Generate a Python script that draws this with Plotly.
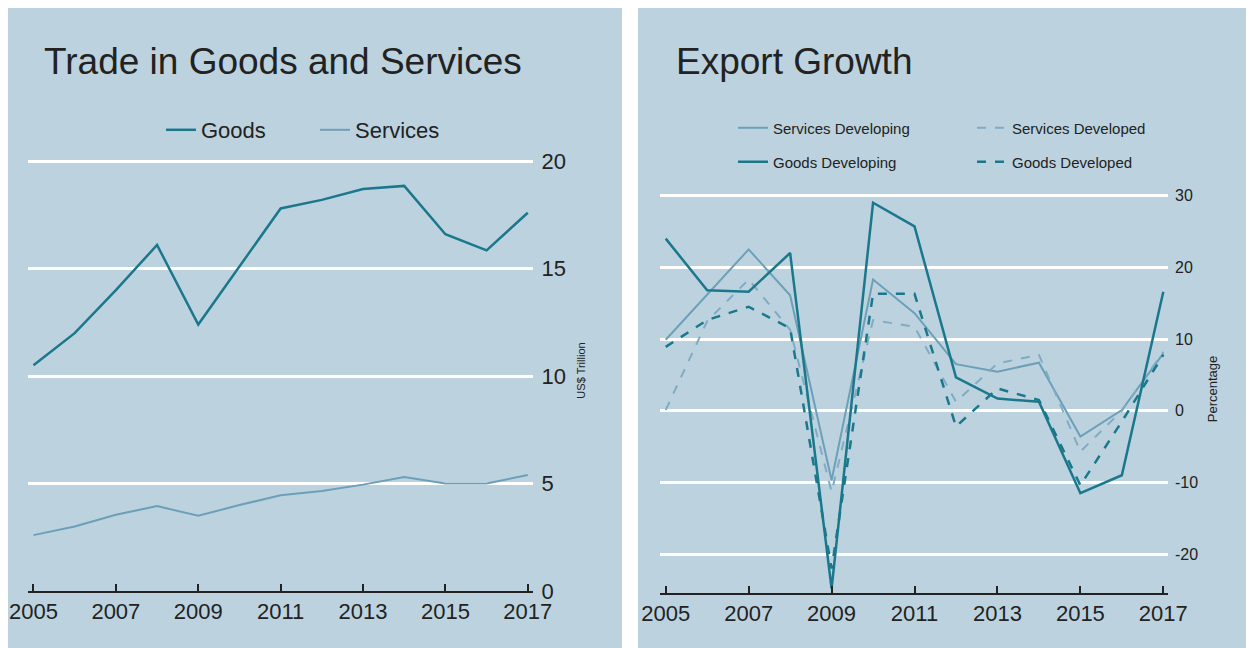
import plotly.graph_objects as go

# the page puts the plot 8px in from the top-left corner
OFF = 8
W, H = 1254 - OFF, 648 - OFF

years = list(range(2005, 2018))
tick_years = [2005, 2007, 2009, 2011, 2013, 2015, 2017]
left_ticks = [0, 5, 10, 15, 20]
right_ticks = [-20, -10, 0, 10, 20, 30]

# Trade in goods and services, US$ trillion
goods = [10.5, 12.0, 14.0, 16.1, 12.4, 15.1, 17.8, 18.2, 18.7, 18.85, 16.6, 15.85, 17.6]
services = [2.6, 3.0, 3.55, 3.95, 3.5, 4.0, 4.45, 4.65, 4.95, 5.3, 5.0, 5.0, 5.4]

# Export growth, percentage
services_developing = [9.9, 16.2, 22.5, 16.1, -9.7, 18.3, 13.6, 6.5, 5.45, 6.7, -3.6, 0.1, 8.0]
services_developed = [0.1, 12.5, 18.3, 11.3, -11.3, 12.65, 11.7, 1.25, 6.6, 7.8, -5.7, 0.0, 8.2]
goods_developing = [24.0, 16.8, 16.6, 22.0, -24.8, 29.0, 25.7, 4.65, 1.7, 1.25, -11.5, -9.0, 16.6]
goods_developed = [8.9, 12.65, 14.5, 11.5, -22.0, 16.3, 16.3, -2.2, 3.1, 1.5, -10.4, -1.5, 7.8]

BG = "#bcd3df"
DARK = "#1b788c"
LIGHT = "#6c9fb8"
LIGHT_DASH = "#80abc2"
TEXT = "#222222"
FONT = "Liberation Sans"


def px_x(p):
    # page pixel -> paper fraction
    return max(p - OFF, 0) / W


def px_y(p):
    return 1 - max(p - OFF, 0) / H


fig = go.Figure()

# left panel
fig.add_trace(go.Scatter(x=years, y=goods, mode="lines", name="Goods",
                         line=dict(color=DARK, width=2.5), xaxis="x", yaxis="y",
                         legend="legend"))
fig.add_trace(go.Scatter(x=years, y=services, mode="lines", name="Services",
                         line=dict(color=LIGHT, width=2), xaxis="x", yaxis="y",
                         legend="legend"))

# right panel
fig.add_trace(go.Scatter(x=years, y=services_developing, mode="lines",
                         name="Services Developing",
                         line=dict(color=LIGHT, width=2), xaxis="x2", yaxis="y2",
                         legend="legend2"))
fig.add_trace(go.Scatter(x=years, y=services_developed, mode="lines",
                         name="Services Developed",
                         line=dict(color=LIGHT_DASH, width=2, dash="dash"),
                         xaxis="x2", yaxis="y2", legend="legend2"))
fig.add_trace(go.Scatter(x=years, y=goods_developing, mode="lines",
                         name="Goods Developing",
                         line=dict(color=DARK, width=2.5), xaxis="x2", yaxis="y2",
                         legend="legend3"))
fig.add_trace(go.Scatter(x=years, y=goods_developed, mode="lines",
                         name="Goods Developed",
                         line=dict(color=DARK, width=2.5, dash="dash"),
                         xaxis="x2", yaxis="y2", legend="legend3"))

xcommon = dict(
    tickvals=tick_years, ticks="inside", ticklen=7, tickwidth=2, tickcolor="#222",
    showline=True, linecolor="#222", linewidth=2, showgrid=False, zeroline=False,
    automargin=False, tickfont=dict(family=FONT, size=22, color=TEXT),
)
ycommon = dict(
    side="right", showgrid=True, gridcolor="white", gridwidth=2.5,
    zeroline=False, showline=False, ticks="", automargin=False,
)

fig.update_layout(
    width=W, height=H,
    margin=dict(l=0, r=0, t=0, b=0),
    paper_bgcolor="white", plot_bgcolor="rgba(0,0,0,0)",
    font=dict(family=FONT, color=TEXT),
    xaxis=dict(domain=[px_x(27.8), px_x(532.6)], range=[2004.862, 2017.117],
               anchor="y", **xcommon),
    yaxis=dict(domain=[px_y(591), px_y(150)], range=[0, 20.52], anchor="x",
               tickvals=left_ticks, ticklabelstandoff=8,
               tickfont=dict(family=FONT, size=22, color=TEXT),
               title=dict(text="US$ Trillion", standoff=12,
                          font=dict(family=FONT, size=11, color=TEXT)),
               **ycommon),
    xaxis2=dict(domain=[px_x(660), px_x(1168)], range=[2004.862, 2017.113],
                anchor="y2", **xcommon),
    yaxis2=dict(domain=[px_y(593), px_y(185)], range=[-25.42, 31.48], anchor="x2",
                tickvals=right_ticks, ticktext=[str(v) for v in right_ticks],
                ticklabelstandoff=6,
                tickfont=dict(family=FONT, size=16, color=TEXT),
                title=dict(text="Percentage", standoff=10,
                           font=dict(family=FONT, size=13, color=TEXT)),
                **ycommon),
    legend=dict(orientation="h", x=px_x(161), y=px_y(130), xanchor="left",
                yanchor="middle", bgcolor="rgba(0,0,0,0)", entrywidth=109,
                font=dict(family=FONT, size=22, color=TEXT)),
    legend2=dict(orientation="h", x=px_x(733), y=px_y(128), xanchor="left",
                 yanchor="middle", bgcolor="rgba(0,0,0,0)", entrywidth=194,
                 font=dict(family=FONT, size=15, color=TEXT)),
    legend3=dict(orientation="h", x=px_x(733), y=px_y(162), xanchor="left",
                 yanchor="middle", bgcolor="rgba(0,0,0,0)", entrywidth=194,
                 font=dict(family=FONT, size=15, color=TEXT)),
    shapes=[
        dict(type="rect", xref="paper", yref="paper", layer="below",
             x0=px_x(5), x1=px_x(622), y0=0, y1=px_y(6),
             fillcolor=BG, line=dict(width=0)),
        dict(type="rect", xref="paper", yref="paper", layer="below",
             x0=px_x(638), x1=1, y0=0, y1=px_y(6),
             fillcolor=BG, line=dict(width=0)),
    ],
    annotations=[
        dict(text="Trade in Goods and Services", xref="paper", yref="paper",
             x=px_x(42), y=px_y(62), xanchor="left", yanchor="middle",
             showarrow=False, font=dict(family=FONT, size=37, color=TEXT)),
        dict(text="Export Growth", xref="paper", yref="paper",
             x=px_x(674), y=px_y(62), xanchor="left", yanchor="middle",
             showarrow=False, font=dict(family=FONT, size=37, color=TEXT)),
    ],
)

fig.write_html("out.html")
